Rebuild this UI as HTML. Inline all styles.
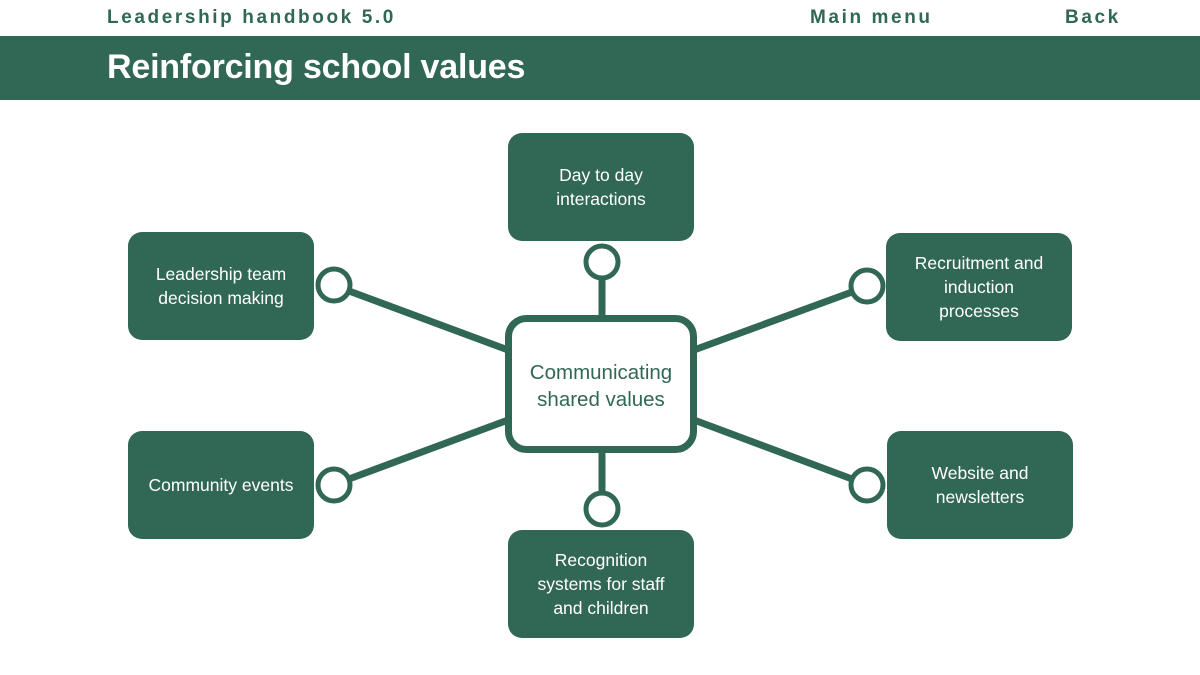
<!DOCTYPE html>
<html><head><meta charset="utf-8"><style>
html,body{margin:0;padding:0;width:1200px;height:675px;background:#fff;overflow:hidden;font-family:"Liberation Sans",sans-serif}
.t{position:absolute;top:7px;font-size:19px;font-weight:bold;color:#316755;letter-spacing:2.6px}
.bar{position:absolute;left:0;top:36px;width:1200px;height:64px;background:#316755}
.bar h1{margin:0;position:absolute;left:107px;top:12px;font-size:34px;color:#fff;font-weight:bold;letter-spacing:-0.2px}
.b{position:absolute;width:186px;height:108px;background:#316755;border-radius:14px;color:#fff;font-size:17.5px;line-height:24px;display:flex;align-items:center;justify-content:center;text-align:center}
</style></head><body>
<div class="t" style="left:107px">Leadership handbook 5.0</div>
<div class="t" style="left:810px">Main menu</div>
<div class="t" style="left:1065px">Back</div>
<div class="bar"><h1>Reinforcing school values</h1></div>
<svg style="position:absolute;left:0;top:0" width="1200" height="675">
<g stroke="#316755" stroke-width="7" fill="none">
<line x1="602" y1="278" x2="602" y2="318"/>
<line x1="602" y1="450" x2="602" y2="493"/>
<line x1="349" y1="291" x2="508" y2="350"/>
<line x1="349" y1="479" x2="508" y2="420"/>
<line x1="852" y1="292" x2="694" y2="350"/>
<line x1="852" y1="479" x2="694" y2="420"/>
<rect x="508.5" y="318.5" width="185" height="131" rx="18" fill="#fff"/>
</g>
<g stroke="#316755" stroke-width="5" fill="#fff">
<circle cx="602" cy="262" r="16"/>
<circle cx="602" cy="509" r="16"/>
<circle cx="334" cy="285" r="16"/>
<circle cx="334" cy="485" r="16"/>
<circle cx="867" cy="286" r="16"/>
<circle cx="867" cy="485" r="16"/>
</g>
<text x="601" y="379" text-anchor="middle" font-size="20.5" fill="#316755" font-family="Liberation Sans, sans-serif">Communicating</text>
<text x="601" y="406" text-anchor="middle" font-size="20.5" fill="#316755" font-family="Liberation Sans, sans-serif">shared values</text>
</svg>
<div class="b" style="left:508px;top:133px">Day to day<br>interactions</div>
<div class="b" style="left:128px;top:232px">Leadership team<br>decision making</div>
<div class="b" style="left:886px;top:233px">Recruitment and<br>induction<br>processes</div>
<div class="b" style="left:128px;top:431px">Community events</div>
<div class="b" style="left:887px;top:431px">Website and<br>newsletters</div>
<div class="b" style="left:508px;top:530px">Recognition<br>systems for staff<br>and children</div>
</body></html>
